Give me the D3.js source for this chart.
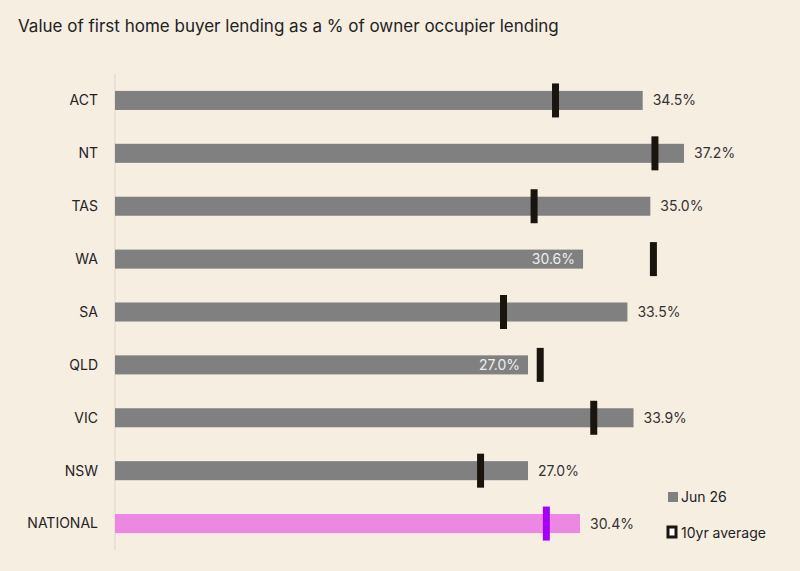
<!DOCTYPE html>
<html><head><meta charset="utf-8">
<script src="https://cdn.jsdelivr.net/npm/d3@7"></script>
<style>body{margin:0;background:#f7eee2;font-family:Inter,"Noto Sans",sans-serif;}</style>
</head><body><div id="chart"></div>
<script>
const regions = ["ACT","NT","TAS","WA","SA","QLD","VIC","NSW","NATIONAL"];
const jun26 = [34.5,37.2,35.0,30.6,33.5,27.0,33.9,27.0,30.4];
const avg10 = [28.8,35.3,27.4,35.2,25.4,27.8,31.3,23.9,28.2];

const width = 800, height = 571;
const svg = d3.select("#chart").append("svg").attr("width", width).attr("height", height);
svg.append("rect").attr("width", width).attr("height", height).attr("fill", "#f7eee2");

svg.append("text").attr("x", 18).attr("y", 32).attr("font-size", 17).attr("fill", "#222")
	.text("Value of first home buyer lending as a % of owner occupier lending");

const x = d3.scaleLinear().domain([0, 37.2]).range([115, 684]);
const y = d3.scaleBand().domain(regions).range([74, 550]).paddingInner(0.64).paddingOuter(0.32);

svg.append("line").attr("x1", 115).attr("x2", 115).attr("y1", 74).attr("y2", 550)
	.attr("stroke", "#ddd6cc").attr("stroke-width", 1);

const rows = svg.selectAll("g.row").data(regions).enter().append("g").attr("class", "row");

rows.append("text").attr("x", 98).attr("y", d => y(d) + y.bandwidth()/2).attr("dy", "0.35em")
	.attr("text-anchor", "end").attr("font-size", 14).attr("fill", "#222").text(d => d);

rows.append("rect").attr("x", x(0)).attr("y", d => y(d))
	.attr("width", (d,i) => x(jun26[i]) - x(0)).attr("height", y.bandwidth())
	.attr("fill", d => d === "NATIONAL" ? "#ec88e4" : "#808080");

rows.append("rect").attr("x", (d,i) => x(avg10[i]) - 3.5).attr("y", d => y(d) + y.bandwidth()/2 - 17)
	.attr("width", 7).attr("height", 34)
	.attr("fill", d => d === "NATIONAL" ? "#a600f5" : "#1a140e");

rows.append("text")
	.attr("x", (d,i) => avg10[i] > jun26[i] ? x(jun26[i]) - 8 : x(jun26[i]) + 10)
	.attr("y", d => y(d) + y.bandwidth()/2).attr("dy", "0.36em")
	.attr("text-anchor", (d,i) => avg10[i] > jun26[i] ? "end" : "start")
	.attr("font-size", 14)
	.attr("fill", (d,i) => avg10[i] > jun26[i] ? "#eee" : "#333")
	.text((d,i) => jun26[i].toFixed(1) + "%");

const lg = svg.append("g");
lg.append("rect").attr("x", 668).attr("y", 492).attr("width", 10).attr("height", 10).attr("fill", "#808080");
lg.append("text").attr("x", 681).attr("y", 497).attr("dy", "0.36em").attr("font-size", 14).attr("fill", "#222").text("Jun 26");
lg.append("rect").attr("x", 668).attr("y", 527).attr("width", 8).attr("height", 10)
	.attr("fill", "#fff").attr("stroke", "#1a140e").attr("stroke-width", 3);
lg.append("text").attr("x", 681).attr("y", 533).attr("dy", "0.36em").attr("font-size", 14).attr("fill", "#222").text("10yr average");
</script></body></html>
